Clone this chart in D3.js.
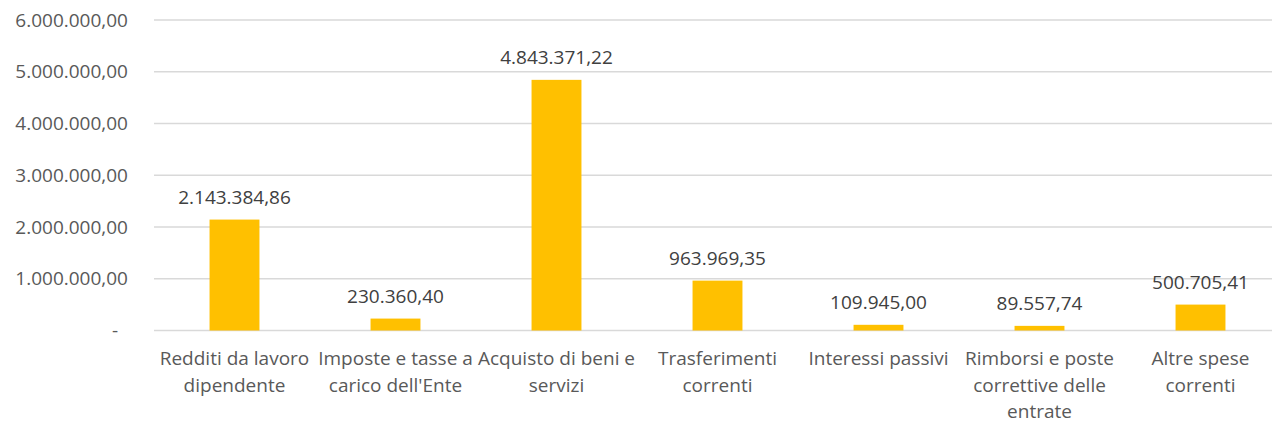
<html>
<head>
    <style>
        body { margin: 0; background: #fff; }
        text { font-family: "Open Sans", "Noto Sans", sans-serif; }
        .grid line { stroke: #d9d9d9; stroke-width: 1.5; }
    </style>
</head>
<body>
    <svg id="container" width="1272" height="437"></svg>
<script src="https://cdn.jsdelivr.net/npm/d3@7"></script>
<script>
    // categories (line breaks as in the original chart)
    let categories = [
        "Redditi da lavoro\ndipendente",
        "Imposte e tasse a\ncarico dell'Ente",
        "Acquisto di beni e\nservizi",
        "Trasferimenti\ncorrenti",
        "Interessi passivi",
        "Rimborsi e poste\ncorrettive delle\nentrate",
        "Altre spese\ncorrenti"
    ]
    let values = [2143384.86, 230360.40, 4843371.22, 963969.35, 109945.00, 89557.74, 500705.41]
    let yTicks = [0, 1000000, 2000000, 3000000, 4000000, 5000000, 6000000]

    let svg = d3.select("#container")
    let plotLeft = 154, plotRight = 1281, plotTop = 20, plotBottom = 330.5

    let xScale = d3.scaleBand()
        .domain(categories)
        .range([plotLeft, plotRight])
        .paddingInner(0.69)
        .paddingOuter(0.345)

    let yScale = d3.scaleLinear()
        .domain([0, 6000000])
        .range([plotBottom, plotTop])

    // italian number format: 1.234.567,89
    let itFormat = d3.formatLocale({ decimal: ",", thousands: ".", grouping: [3], currency: ["€", ""] }).format(",.2f")

    // gridlines
    svg.append("g").attr("class", "grid")
        .selectAll("line").data(yTicks).join("line")
        .attr("x1", plotLeft).attr("x2", plotRight)
        .attr("y1", d => yScale(d))
        .attr("y2", d => yScale(d))

    // y labels
    svg.append("g").selectAll("text").data(yTicks).join("text")
        .attr("x", d => d === 0 ? 118 : 128)
        .attr("y", d => yScale(d))
        .attr("dy", "0.35em")
        .attr("text-anchor", "end")
        .attr("fill", "#595959")
        .style("font-size", "19px")
        .text(d => d === 0 ? "-" : itFormat(d))

    // bars
    svg.append("g").selectAll("rect").data(values).join("rect")
        .attr("x", (d, i) => xScale(categories[i]))
        .attr("width", xScale.bandwidth())
        .attr("y", d => yScale(d))
        .attr("height", d => plotBottom - yScale(d))
        .attr("fill", "#ffc000")

    // value labels
    svg.append("g").selectAll("text").data(values).join("text")
        .attr("x", (d, i) => xScale(categories[i]) + xScale.bandwidth() / 2)
        .attr("y", d => yScale(d) - 16)
        .attr("text-anchor", "middle")
        .attr("fill", "#404040")
        .style("font-size", "19px")
        .text(d => itFormat(d))

    // category labels
    let cat = svg.append("g").selectAll("text").data(categories).join("text")
        .attr("x", d => xScale(d) + xScale.bandwidth() / 2)
        .attr("y", 365)
        .attr("text-anchor", "middle")
        .attr("fill", "#595959")
        .style("font-size", "19px")
    cat.selectAll("tspan").data(d => d.split("\n")).join("tspan")
        .attr("x", function () { return this.parentNode.getAttribute("x") })
        .attr("dy", (d, i) => i === 0 ? 0 : 26.5)
        .text(d => d)
</script>
</body>
</html>
